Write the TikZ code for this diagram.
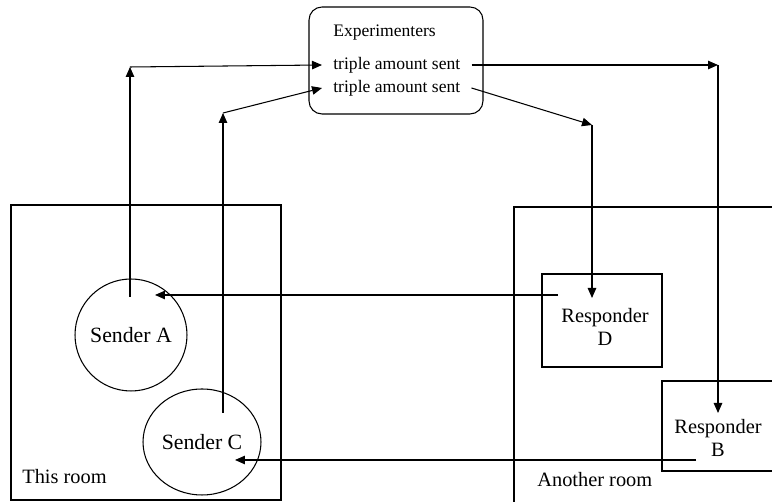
\documentclass[tikz,border=0pt]{standalone}
\usepackage{fontspec}
\setmainfont{Liberation Serif}
\usepackage{tikz}
\usetikzlibrary{arrows.meta,shapes.geometric}

\tikzset{
	flow/.style={line width=0.6pt, -{Triangle[length=0.2cm, width=0.17cm]}},
	wall/.style={line width=0.7pt},
	txt/.style={font=\fontsize{11.6}{13}\selectfont, inner sep=0pt},
	exptxt/.style={font=\fontsize{10}{12}\selectfont, inner ysep=0pt, inner xsep=0.22cm, anchor=west},
	sender/.style={draw, line width=0.6pt, inner sep=0pt, font=\fontsize{12.4}{14}\selectfont}
}

\begin{document}
\begin{tikzpicture}[x=0.02cm, y=-0.02cm]
			%%%%% START %%%%%
			\useasboundingbox (0, 0) rectangle (772, 502);
			
			\draw[wall] (11, 205) rectangle (281, 500);
			\draw[wall] (772, 207) -- (514, 207) -- (514, 502);
			
			\node[txt, anchor=west] (thisroom) at (22, 477) {This room};
			\node[txt, anchor=west] (otherroom) at (537, 480) {Another room};
			
			\node[draw, line width=0.6pt, rounded corners=0.26cm, minimum width=3.48cm, minimum height=2.14cm] (exp) at (396, 60.5) {};
			\node[exptxt] (exptitle) at (322, 33) {Experimenters};
			\node[exptxt] (tripleA) at (322, 65) {triple amount sent};
			\node[exptxt] (tripleC) at (322, 88) {triple amount sent};
			
			\node[sender, circle, minimum size=2.24cm] (senderA) at (131, 335) {Sender A};
			\node[sender, ellipse, minimum width=2.36cm, minimum height=2.12cm] (senderC) at (202, 442) {Sender C};
			
			\node[draw, line width=0.6pt, minimum width=2.4cm, minimum height=1.86cm] (respD) at (602, 320.5) {};
			\node[txt, align=center] (respDtxt) at (605, 327) {Responder\\D};
			
			\draw[line width=0.6pt] (772, 381) -- (662, 381) -- (662, 471) -- (772, 471);
			\node[txt, align=center] (respBtxt) at (718, 438) {Responder\\B};
			
			\coordinate (aFoot) at (130, 297);
			\coordinate (aTop) at (130, 67);
			\coordinate (cFoot) at (223, 413);
			\coordinate (cTop) at (223, 113);
			\coordinate (bTop) at (718, 65);
			\coordinate (bTip) at (718, 413);
			\coordinate (dTop) at (592, 125);
			\coordinate (dTip) at (592, 298);
			\coordinate (dFrom) at (558, 295);
			\coordinate (aTip) at (155, 295);
			\coordinate (bFrom) at (696, 460);
			\coordinate (cTip) at (235, 460);
			
			\draw[flow] (aFoot) -- (aTop);
			\draw[flow] (aTop) -- (tripleA.west);
			\draw[flow] (cFoot) -- (cTop);
			\draw[flow] (cTop) -- (tripleC.west);
			
			\draw[flow] (tripleA.east) -- (bTop);
			\draw[flow] (bTop) -- (bTip);
			\draw[flow] (tripleC.east) -- (dTop);
			\draw[flow] (dTop) -- (dTip);
			
			\draw[flow] (dFrom) -- (aTip);
			\draw[flow] (bFrom) -- (cTip);
			
			%%%%% END %%%%%
\end{tikzpicture}
\end{document}
